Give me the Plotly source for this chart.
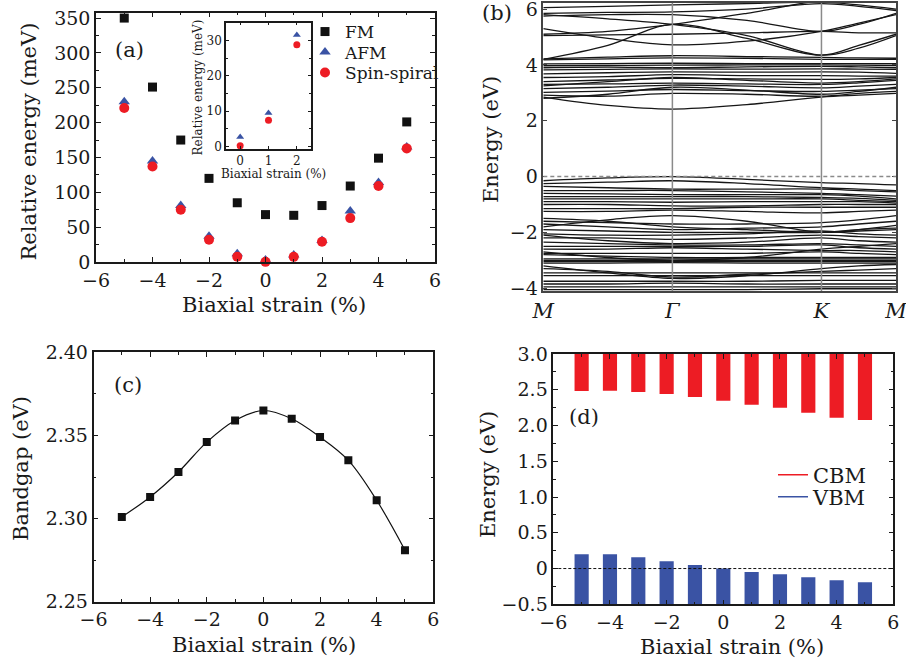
import plotly.graph_objects as go

# ---------------- data ----------------
STRAIN = [-5, -4, -3, -2, -1, 0, 1, 2, 3, 4, 5]
FM = [350, 251, 175, 120, 85, 68, 67, 81, 109, 149, 201]
AFM = [230, 145, 81, 37, 12, 3, 10, 31, 73, 114, 165]
SPIRAL = [221, 137, 75, 32, 7.5, 0.2, 7.4, 29, 63, 109, 163]

INSET_STRAIN = [0, 1, 2]
INSET_AFM = [2.7, 9.5, 31.5]
INSET_SPIRAL = [0.2, 7.4, 28.8]

BANDGAP = [2.301, 2.313, 2.328, 2.346, 2.359, 2.365, 2.360, 2.349, 2.335, 2.311, 2.281]

CBM = [2.483, 2.487, 2.469, 2.440, 2.399, 2.348, 2.292, 2.250, 2.180, 2.110, 2.077]
VBM = [0.200, 0.200, 0.158, 0.103, 0.051, 0.000, -0.047, -0.079, -0.121, -0.163, -0.191]

KPATH_NODES = [0.0, 0.866, 1.866, 2.366]
KPATH_LABELS = ["<i>M</i>", "<i>Γ</i>", "<i>K</i>", "<i>M</i>"]
K_SAMPLES = [0.0, 0.433, 0.866, 1.366, 1.866, 2.116, 2.366]

COND_BANDS = [
    [2.85, 2.55, 2.42, 2.58, 2.85, 2.92, 2.98],
    [2.92, 2.88, 2.98, 2.95, 2.88, 2.98, 3.05],
    [3.02, 3.06, 3.12, 3.08, 3.05, 3.10, 3.15],
    [3.15, 3.20, 3.28, 3.24, 3.18, 3.24, 3.30],
    [3.30, 3.32, 3.35, 3.32, 3.30, 3.36, 3.45],
    [3.40, 3.46, 3.52, 3.50, 3.48, 3.50, 3.55],
    [3.55, 3.58, 3.65, 3.62, 3.62, 3.60, 3.60],
    [3.68, 3.72, 3.75, 3.74, 3.75, 3.74, 3.70],
    [3.82, 3.84, 3.86, 3.85, 3.86, 3.85, 3.84],
    [3.90, 3.92, 3.90, 3.93, 3.95, 3.93, 3.90],
    [3.97, 3.98, 3.99, 4.00, 4.00, 3.99, 3.98],
    [4.04, 4.05, 4.06, 4.05, 4.05, 4.05, 4.05],
    [4.18, 4.22, 4.25, 4.24, 4.20, 4.20, 4.20],
    [4.22, 4.28, 4.33, 4.30, 4.27, 4.25, 4.24],
    [4.20, 4.70, 5.45, 4.95, 4.35, 4.70, 5.10],
    [5.10, 5.20, 5.45, 5.85, 6.30, 6.30, 6.30],
    [5.30, 4.95, 4.72, 4.85, 5.20, 5.50, 5.80],
    [5.80, 5.65, 5.45, 5.05, 4.35, 4.60, 5.05],
    [5.75, 5.80, 5.80, 5.60, 5.20, 5.45, 5.85],
    [5.85, 5.88, 5.90, 6.00, 6.20, 6.10, 5.95],
    [6.05, 6.10, 6.15, 6.20, 6.25, 6.15, 6.00],
    [5.05, 5.08, 5.10, 5.15, 5.20, 5.15, 5.15],
    [2.80, 2.95, 3.20, 3.10, 2.95, 3.05, 3.20],
    [3.25, 3.40, 3.55, 3.45, 3.35, 3.40, 3.50],
]
VAL_BANDS = [
    [-0.15, -0.05, 0.00, -0.10, -0.22, -0.25, -0.30],
    [-0.25, -0.20, -0.15, -0.25, -0.40, -0.45, -0.50],
    [-0.35, -0.40, -0.45, -0.45, -0.45, -0.50, -0.55],
    [-0.50, -0.50, -0.50, -0.55, -0.60, -0.65, -0.70],
    [-0.60, -0.62, -0.65, -0.65, -0.65, -0.70, -0.80],
    [-0.72, -0.72, -0.72, -0.72, -0.75, -0.78, -0.85],
    [-0.80, -0.80, -0.80, -0.80, -0.80, -0.85, -0.90],
    [-0.90, -0.90, -0.92, -0.90, -0.90, -0.90, -0.95],
    [-1.00, -1.00, -1.05, -1.05, -1.00, -1.00, -1.00],
    [-1.15, -1.15, -1.15, -1.10, -1.10, -1.10, -1.10],
    [-1.25, -1.25, -1.20, -1.25, -1.30, -1.25, -1.20],
    [-1.80, -1.55, -1.40, -1.60, -2.00, -1.90, -1.75],
    [-1.60, -1.65, -1.70, -1.70, -1.65, -1.55, -1.40],
    [-1.70, -1.80, -1.90, -1.85, -1.80, -1.70, -1.60],
    [-1.90, -1.95, -2.00, -2.00, -2.00, -1.90, -1.85],
    [-2.05, -2.10, -2.10, -2.05, -1.95, -2.05, -2.10],
    [-2.20, -2.20, -2.25, -2.20, -2.10, -2.15, -2.20],
    [-2.10, -2.30, -2.40, -2.35, -2.20, -2.30, -2.35],
    [-2.35, -2.40, -2.45, -2.45, -2.40, -2.45, -2.50],
    [-2.50, -2.50, -2.50, -2.50, -2.45, -2.55, -2.60],
    [-2.60, -2.60, -2.55, -2.60, -2.65, -2.65, -2.70],
    [-2.75, -2.75, -2.75, -2.75, -2.70, -2.75, -2.80],
    [-2.80, -2.85, -2.90, -2.90, -2.90, -2.90, -2.90],
    [-2.95, -2.95, -2.95, -2.95, -2.95, -2.95, -2.95],
    [-3.00, -3.00, -3.00, -3.00, -3.00, -3.00, -3.00],
    [-3.05, -3.05, -3.05, -3.05, -3.05, -3.05, -3.05],
    [-3.10, -3.10, -3.08, -3.10, -3.10, -3.10, -3.10],
    [-3.20, -3.45, -3.65, -3.55, -3.30, -3.20, -3.15],
    [-3.30, -3.40, -3.60, -3.50, -3.40, -3.35, -3.30],
    [-3.45, -3.45, -3.45, -3.45, -3.45, -3.45, -3.45],
    [-3.55, -3.55, -3.55, -3.55, -3.55, -3.55, -3.55],
    [-3.75, -3.75, -3.75, -3.75, -3.72, -3.72, -3.72],
    [-3.85, -3.85, -3.82, -3.85, -3.85, -3.85, -3.85],
    [-3.95, -3.95, -3.95, -3.95, -3.95, -3.95, -3.95],
    [-4.05, -4.05, -4.05, -4.05, -4.02, -4.02, -4.02],
    [-2.70, -2.90, -3.00, -2.90, -2.60, -2.50, -2.40],
    [-1.50, -1.60, -1.80, -1.90, -2.00, -1.95, -1.90],
]

# ---------------- style ----------------
FONT = "DejaVu Serif"
INK = "#1a1a1a"
RED = "#ED1C24"
BLUE = "#3A53A4"
W, H = 906, 662


def px(x):
    return x / W


def py(y):
    return 1 - y / H


def axis(dom, anchor, rng, dtick, mdtick, tsize=19, **kw):
    d = dict(
        domain=dom, anchor=anchor, range=rng, dtick=dtick, tick0=0, automargin=False,
        ticklabeloverflow="allow",
        ticks="inside", ticklen=5, tickwidth=1.2, tickcolor=INK,
        minor=dict(dtick=mdtick, tick0=0, ticks="inside", ticklen=3, tickwidth=1, tickcolor=INK, showgrid=False),
        showline=True, linecolor=INK, linewidth=1.5, mirror="allticks",
        showgrid=False, zeroline=False,
        tickfont=dict(family=FONT, size=tsize, color=INK),
    )
    d.update(kw)
    return d


def one_legend(x, y, size, wpx):
    return dict(x=px(x), y=py(y), xanchor="left", yanchor="middle", orientation="h",
                entrywidthmode="pixels", entrywidth=wpx,
                font=dict(family=FONT, size=size, color=INK), bgcolor="rgba(0,0,0,0)",
                itemwidth=30, tracegroupgap=0, borderwidth=0)


fig = go.Figure()

# ---- (a) ----
fig.add_trace(go.Scatter(x=STRAIN, y=FM, mode="markers", name="FM",
                         marker=dict(symbol="square", size=9, color="#111"),
                         xaxis="x", yaxis="y", legend="legend", cliponaxis=False))
fig.add_trace(go.Scatter(x=STRAIN, y=AFM, mode="markers", name="AFM",
                         marker=dict(symbol="triangle-up", size=10, color=BLUE),
                         xaxis="x", yaxis="y", legend="legend3", cliponaxis=False))
fig.add_trace(go.Scatter(x=STRAIN, y=SPIRAL, mode="markers", name="Spin-spiral",
                         marker=dict(symbol="circle", size=10, color=RED),
                         xaxis="x", yaxis="y", legend="legend4", cliponaxis=False))
# inset
fig.add_trace(go.Scatter(x=INSET_STRAIN, y=INSET_AFM, mode="markers", showlegend=False,
                         marker=dict(symbol="triangle-up", size=7, color=BLUE),
                         xaxis="x5", yaxis="y5"))
fig.add_trace(go.Scatter(x=INSET_STRAIN, y=INSET_SPIRAL, mode="markers", showlegend=False,
                         marker=dict(symbol="circle", size=7, color=RED),
                         xaxis="x5", yaxis="y5"))

# ---- (b) band structure ----
for band in COND_BANDS + VAL_BANDS:
    fig.add_trace(go.Scatter(x=K_SAMPLES, y=band, mode="lines", showlegend=False,
                             line=dict(color="#161616", width=1.3, shape="spline", smoothing=1.0),
                             xaxis="x2", yaxis="y2"))

# ---- (c) ----
fig.add_trace(go.Scatter(x=STRAIN, y=BANDGAP, mode="lines+markers", showlegend=False,
                         line=dict(color="#111", width=1.2, shape="spline"),
                         marker=dict(symbol="square", size=8, color="#111"),
                         xaxis="x3", yaxis="y3"))

# ---- (d) ----
TOP = 3.0
BOTTOM = -0.5
fig.add_trace(go.Bar(x=STRAIN, y=[TOP - c for c in CBM], base=CBM, width=0.5,
                     marker=dict(color=RED, line=dict(width=0)), showlegend=False,
                     xaxis="x4", yaxis="y4"))
fig.add_trace(go.Bar(x=STRAIN, y=[v - BOTTOM for v in VBM], base=[BOTTOM] * len(VBM), width=0.5,
                     marker=dict(color=BLUE, line=dict(width=0)), showlegend=False,
                     xaxis="x4", yaxis="y4"))
fig.add_trace(go.Scatter(x=[None], y=[None], mode="lines", name="CBM",
                         line=dict(color=RED, width=1.5), xaxis="x4", yaxis="y4", legend="legend2"))
fig.add_trace(go.Scatter(x=[None], y=[None], mode="lines", name="VBM",
                         line=dict(color=BLUE, width=1.5), xaxis="x4", yaxis="y4", legend="legend5"))

layout = dict(
    width=W, height=H, margin=dict(l=0, r=0, t=0, b=0, autoexpand=False),
    paper_bgcolor="white", plot_bgcolor="white",
    font=dict(family=FONT, color=INK),
    barmode="overlay",
    xaxis=axis([px(96), px(435)], "y", [-6, 6], 2, 1),
    yaxis=axis([py(262), py(12.5)], "x", [0, 358], 50, 25),
    xaxis2=dict(domain=[px(543.3), px(896)], anchor="y2", range=[0, 2.366], automargin=False,
                ticklabeloverflow="allow",
                tickvals=KPATH_NODES, ticktext=KPATH_LABELS, ticks="",
                tickfont=dict(family=FONT, size=21, color=INK),
                showline=True, linecolor="#444", linewidth=1.5, mirror=True,
                showgrid=False, zeroline=False),
    yaxis2=dict(domain=[py(291), py(2.7)], anchor="x2", range=[-4.1, 6.23], dtick=2, tick0=0,
                automargin=False, ticklabeloverflow="allow",
                ticks="inside", ticklen=4, tickcolor="#444",
                tickfont=dict(family=FONT, size=19, color=INK),
                showline=True, linecolor="#444", linewidth=1.5, mirror="allticks",
                showgrid=False, zeroline=False),
    xaxis3=axis([px(93.5), px(433.3)], "y3", [-6, 6], 2, 1),
    yaxis3=axis([py(601.7), py(352.3)], "x3", [2.25, 2.40], 0.05, 0.025, tickformat=".2f"),
    xaxis4=axis([px(553.3), px(893.3)], "y4", [-6, 6], 2, 1),
    yaxis4=axis([py(604.3), py(354)], "x4", [-0.5, 3.0], 0.5, 0.25,
                tickvals=[-0.5, 0, 0.5, 1.0, 1.5, 2.0, 2.5, 3.0],
                ticktext=["−0.5", "0", "0.5", "1.0", "1.5", "2.0", "2.5", "3.0"]),
    xaxis5=axis([px(226), px(311)], "y5", [-0.5, 2.5], 1, 0.5, tsize=12, ticklen=3,
                minor=dict(ticks="")),
    yaxis5=axis([py(149), py(22.7)], "x5", [-0.7, 35], 10, 5, tsize=12, ticklen=3,
                minor=dict(dtick=5, tick0=0, ticks="inside", ticklen=2, tickcolor=INK)),
    legend=one_legend(305, 32, 17, 160),
    legend3=one_legend(305, 52.5, 17, 160),
    legend4=one_legend(305, 73, 17, 160),
    legend2=one_legend(773, 475, 21, 120),
    legend5=one_legend(773, 497, 21, 120),
)
fig.update_layout(**layout)

# shapes
fig.add_shape(type="line", xref="x2", yref="y2", x0=KPATH_NODES[1], x1=KPATH_NODES[1], y0=-4.1, y1=6.23,
              line=dict(color="#8a8a8a", width=1.5), layer="above")
fig.add_shape(type="line", xref="x2", yref="y2", x0=KPATH_NODES[2], x1=KPATH_NODES[2], y0=-4.1, y1=6.23,
              line=dict(color="#8a8a8a", width=1.5), layer="above")
fig.add_shape(type="line", xref="x2", yref="y2", x0=0, x1=KPATH_NODES[3], y0=0, y1=0,
              line=dict(color="#8a8a8a", width=1.5, dash="4px,3px"), layer="above")
fig.add_shape(type="line", xref="x4", yref="y4", x0=-6, x1=6, y0=0, y1=0,
              line=dict(color="#111", width=1, dash="3px,2px"), layer="above")


# annotations (titles and panel labels)
def ann(text, x, y, size, angle=0):
    fig.add_annotation(text=text, x=px(x), y=py(y), xref="paper", yref="paper",
                       showarrow=False, textangle=angle, xanchor="center", yanchor="middle",
                       font=dict(family=FONT, size=size, color=INK))


ann("Relative energy (meV)", 28.5, 142, 21, -90)
ann("Biaxial strain (%)", 274, 305, 21)
ann("Energy (eV)", 491, 140, 21, -90)
ann("Bandgap (eV)", 21, 469, 21, -90)
ann("Biaxial strain (%)", 264, 645, 21)
ann("Energy (eV)", 488, 475, 21, -90)
ann("Biaxial strain (%)", 732, 647, 21)
ann("Relative energy (meV)", 197.5, 88, 12, -90)
ann("Biaxial strain (%)", 273, 174, 12)
ann("(a)", 129, 50, 21)
ann("(b)", 497, 13, 21)
ann("(c)", 128, 385, 21)
ann("(d)", 584, 417, 21)

fig.write_html("out.html", config={"displayModeBar": False},
               post_script="document.body.style.margin='0';document.body.style.overflow='hidden';")
